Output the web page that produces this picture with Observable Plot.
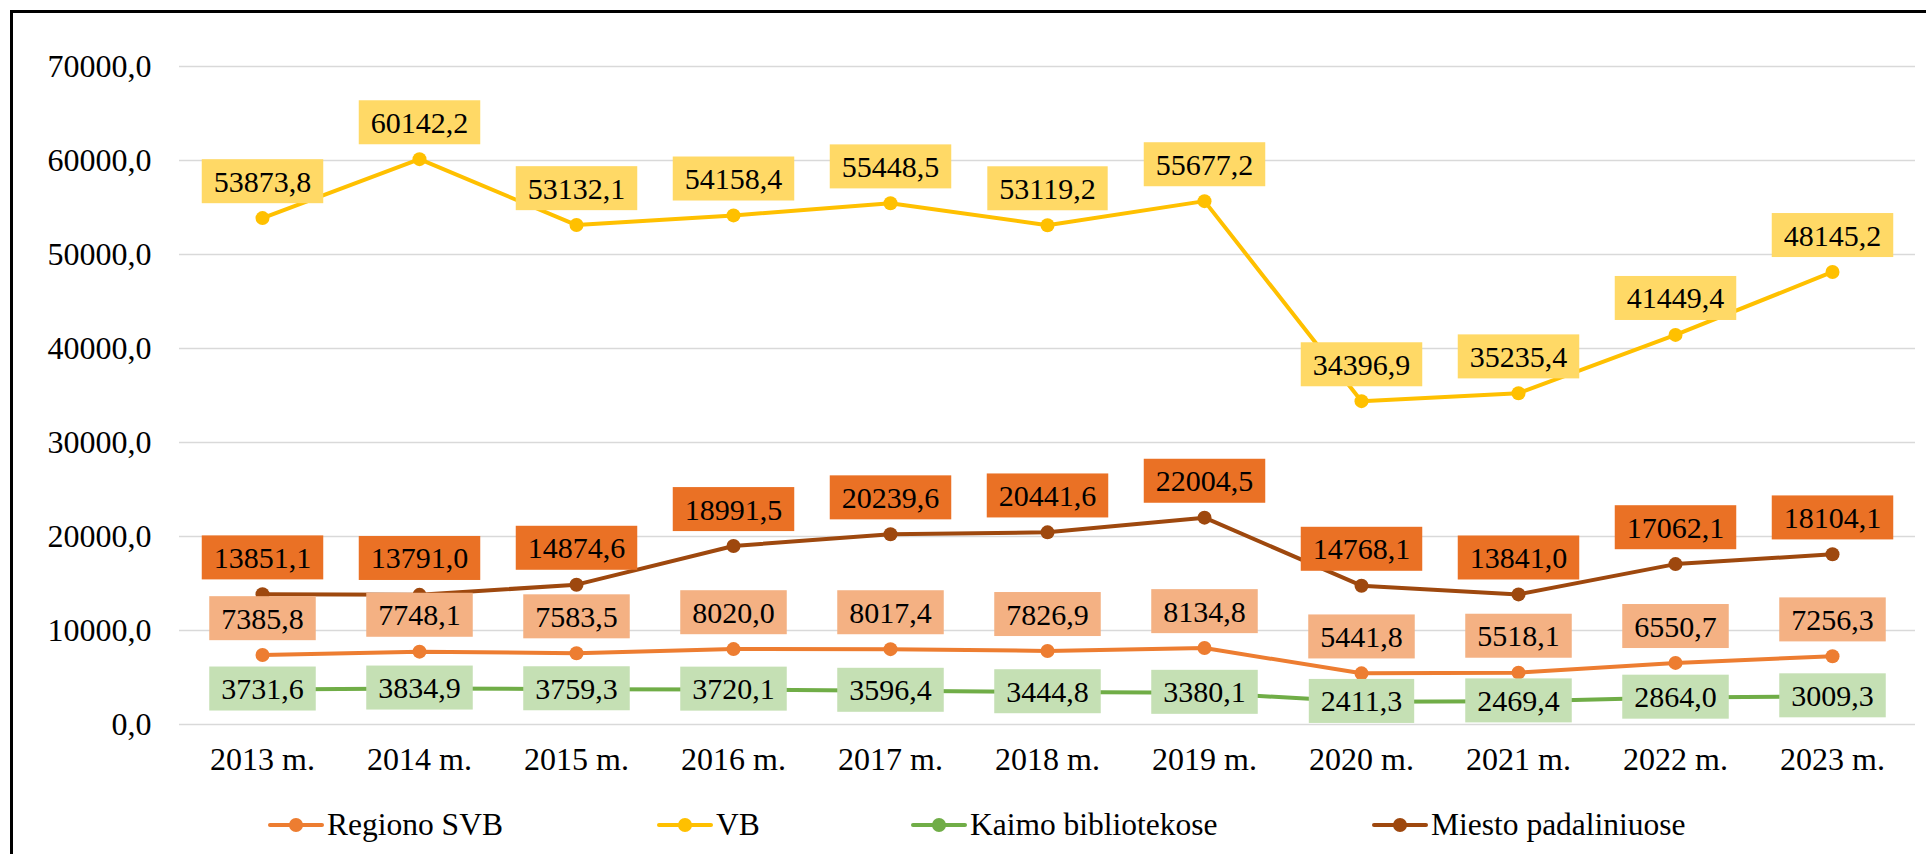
<!DOCTYPE html>
<html>
<head>
<meta charset="utf-8">
<script src="https://cdn.jsdelivr.net/npm/d3@7"></script>
<script src="https://cdn.jsdelivr.net/npm/@observablehq/plot@0.6"></script>
<style>
  html, body { margin: 0; padding: 0; background: #fff; width: 1926px; height: 854px; overflow: hidden; }
  #frame { position: absolute; left: 10px; top: 10px; width: 2000px; height: 1000px; border-left: 3px solid #000; border-top: 3px solid #000; }
  #chart { position: absolute; left: 0; top: 0; }
  .leg { position: absolute; top: 805px; height: 40px; display: flex; align-items: center; font-family: "Liberation Serif"; font-size: 31.5px; color: #000; white-space: nowrap; }
  .leg svg { margin-right: 3px; }
</style>
</head>
<body>
<div id="frame"></div>
<div id="chart"></div>
<div id="legend"></div>
<script>
const years = ["2013 m.", "2014 m.", "2015 m.", "2016 m.", "2017 m.", "2018 m.", "2019 m.", "2020 m.", "2021 m.", "2022 m.", "2023 m."];
const regionoSVB = [7385.8, 7748.1, 7583.5, 8020.0, 8017.4, 7826.9, 8134.8, 5441.8, 5518.1, 6550.7, 7256.3];
const vb = [53873.8, 60142.2, 53132.1, 54158.4, 55448.5, 53119.2, 55677.2, 34396.9, 35235.4, 41449.4, 48145.2];
const kaimo = [3731.6, 3834.9, 3759.3, 3720.1, 3596.4, 3444.8, 3380.1, 2411.3, 2469.4, 2864.0, 3009.3];
const miesto = [13851.1, 13791.0, 14874.6, 18991.5, 20239.6, 20441.6, 22004.5, 14768.1, 13841.0, 17062.1, 18104.1];
const seriesNames = ["Regiono SVB", "VB", "Kaimo bibliotekose", "Miesto padaliniuose"];
const seriesValues = [regionoSVB, vb, kaimo, miesto];
const lineColors = ["#ED7D31", "#FFC000", "#70AD47", "#9E480E"];
const boxColors = ["#F4B183", "#FFD966", "#C5E0B4", "#EA7125"];
const labelDy = [-36, -36, 0, -36];
const yTicks = [0, 10000, 20000, 30000, 40000, 50000, 60000, 70000];
const FONT = "Liberation Serif";

const fmt = v => v.toFixed(1).replace(".", ",");

const rows = seriesNames.flatMap((s, k) => years.map((y, i) => ({series: s, year: y, value: seriesValues[k][i]})));

const marks = [
  Plot.gridY(yTicks, {stroke: "#D9D9D9", strokeOpacity: 1, strokeWidth: 1.5}),
  Plot.axisY(yTicks, {tickSize: 0, tickPadding: 28, tickFormat: fmt, fontSize: 32, fontFamily: FONT}),
  Plot.axisX({tickSize: 0, tickPadding: 23, fontSize: 32, fontFamily: FONT}),
  Plot.line(rows, {x: "year", y: "value", z: "series", stroke: "series", strokeWidth: 4, strokeLinejoin: "round", strokeLinecap: "round"}),
  Plot.dot(rows, {x: "year", y: "value", fill: "series", r: 7})
];
seriesNames.forEach((s, k) => {
  marks.push(Plot.text(rows.filter(d => d.series === s), {
    x: "year", y: "value", text: d => fmt(d.value), dy: labelDy[k],
    fontSize: 30, fontFamily: FONT, fill: "#000", textAnchor: "middle", lineAnchor: "middle"
  }));
});

const plot = Plot.plot({
  width: 1926,
  height: 790,
  marginLeft: 179,
  marginRight: 11,
  marginTop: 66,
  marginBottom: 66,
  style: {fontFamily: FONT, fontSize: "32px", background: "transparent", overflow: "visible", color: "#000"},
  x: {type: "point", domain: years, padding: 0.5, label: null},
  y: {domain: [0, 70000], label: null},
  color: {domain: seriesNames, range: lineColors},
  marks
});
document.getElementById("chart").appendChild(plot);

// label boxes behind each data label (positions taken from the rendered text)
const textGroups = plot.querySelectorAll('g[aria-label="text"]');
textGroups.forEach((g, k) => {
  g.querySelectorAll("text").forEach(t => {
    const b = t.getBBox();
    const cy = b.y + b.height / 2;
    const r = document.createElementNS("http://www.w3.org/2000/svg", "rect");
    r.setAttribute("x", b.x - 12);
    r.setAttribute("width", b.width + 24);
    r.setAttribute("y", cy - 22);
    r.setAttribute("height", 44);
    r.setAttribute("fill", boxColors[k]);
    const tr = t.getAttribute("transform");
    if (tr) r.setAttribute("transform", tr);
    g.insertBefore(r, t);
  });
});

// legend
const legendX = [268, 657, 911, 1372];
const legend = document.getElementById("legend");
seriesNames.forEach((s, k) => {
  const item = document.createElement("div");
  item.className = "leg";
  item.style.left = legendX[k] + "px";
  item.innerHTML = `<svg width="56" height="20"><line x1="2" y1="10" x2="54" y2="10" stroke="${lineColors[k]}" stroke-width="4" stroke-linecap="round"/><circle cx="28" cy="10" r="7" fill="${lineColors[k]}"/></svg><span>${s}</span>`;
  legend.appendChild(item);
});
</script>
</body>
</html>
